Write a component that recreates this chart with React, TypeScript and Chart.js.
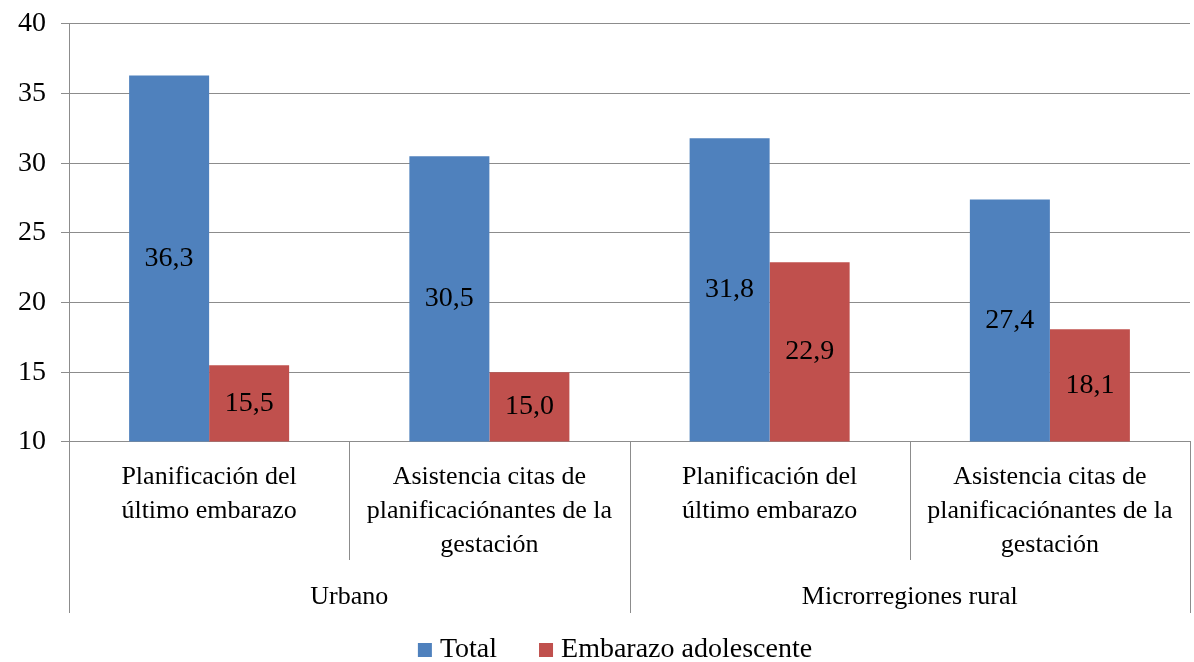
import React, { useEffect, useRef } from "react";
import { Chart, registerables } from "chart.js";

Chart.register(...registerables);

const categories: string[][] = [
  ["Planificación del", "último embarazo"],
  ["Asistencia citas de", "planificaciónantes de la", "gestación"],
  ["Planificación del", "último embarazo"],
  ["Asistencia citas de", "planificaciónantes de la", "gestación"],
];
const groups = ["Urbano", "Microrregiones rural"];
const totalValues = [36.3, 30.5, 31.8, 27.4];
const adolescentValues = [15.5, 15.0, 22.9, 18.1];
const seriesNames = ["Total", "Embarazo adolescente"];
const seriesColors = ["#4F81BD", "#C0504D"];

const FONT = "'Liberation Serif', 'Times New Roman', serif";
const GRID = "#8c8c8c";

export default function App() {
  const ref = useRef<HTMLCanvasElement | null>(null);

  useEffect(() => {
    document.body.style.margin = "0";
    const canvas = ref.current!;
    const labelsPlugin = {
      id: "valueLabels",
      afterDatasetsDraw(chart: any) {
        const ctx = chart.ctx;
        ctx.save();
        ctx.font = `28px ${FONT}`;
        ctx.fillStyle = "#000";
        ctx.textAlign = "center";
        ctx.textBaseline = "middle";
        chart.data.datasets.forEach((ds: any, di: number) => {
          const meta = chart.getDatasetMeta(di);
          meta.data.forEach((bar: any, i: number) => {
            const v = ds.data[i] as number;
            const y = (bar.y + bar.base) / 2;
            ctx.fillText(v.toFixed(1).replace(".", ","), bar.x, y);
          });
        });
        ctx.restore();
      },
    };
    const axisPlugin = {
      id: "multiAxis",
      afterDraw(chart: any) {
        const ctx = chart.ctx;
        const area = chart.chartArea;
        const n = categories.length;
        const w = (area.right - area.left) / n;
        const bottom = area.bottom;
        ctx.save();
        ctx.strokeStyle = GRID;
        ctx.lineWidth = 1;
        for (let i = 0; i <= n; i++) {
          const x = Math.round(area.left + i * w) + 0.5;
          const long = i % 2 === 0;
          ctx.beginPath();
          ctx.moveTo(x, bottom);
          ctx.lineTo(x, bottom + (long ? 171 : 118));
          ctx.stroke();
        }
        ctx.font = `26px ${FONT}`;
        ctx.fillStyle = "#000";
        ctx.textAlign = "center";
        ctx.textBaseline = "middle";
        categories.forEach((lines, i) => {
          const cx = area.left + (i + 0.5) * w;
          lines.forEach((t, j) => {
            ctx.fillText(t, cx, bottom + 35 + j * 34);
          });
        });
        groups.forEach((g, i) => {
          const cx = area.left + (i * 2 + 1) * w;
          ctx.fillText(g, cx, bottom + 155);
        });

        // legend
        ctx.font = `28px ${FONT}`;
        const box = 14;
        const textGap = 8;
        const itemGap = 42;
        const widths = seriesNames.map((s) => ctx.measureText(s).width);
        let total = 0;
        widths.forEach((tw, i) => {
          total += box + textGap + tw + (i < widths.length - 1 ? itemGap : 0);
        });
        let x = 615 - total / 2;
        const cy = chart.height - 12;
        ctx.textAlign = "left";
        seriesNames.forEach((s, i) => {
          ctx.fillStyle = seriesColors[i];
          ctx.fillRect(x, cy - box / 2, box, box);
          ctx.fillStyle = "#000";
          ctx.fillText(s, x + box + textGap, cy);
          x += box + textGap + widths[i] + itemGap;
        });
        ctx.restore();
      },
    };

    const chart = new Chart(canvas, {
      type: "bar",
      data: {
        labels: categories.map((c) => c.join(" ")),
        datasets: [0, 1].map((k) => ({
          label: seriesNames[k],
          data: k === 0 ? totalValues : adolescentValues,
          backgroundColor: seriesColors[k],
          categoryPercentage: 0.571,
          barPercentage: 1,
          base: 10,
        })),
      },
      options: {
        responsive: false,
        animation: false,
        layout: { padding: { top: 0, right: 4, left: 3, bottom: 0 } },
        plugins: {
          tooltip: { enabled: false },
          legend: { display: false },
        },
        scales: {
          x: {
            grid: { display: false, drawTicks: false },
            border: { display: true, color: GRID },
            ticks: { display: false },
            afterFit: (scale: any) => {
              scale.height = 220;
            },
          },
          y: {
            min: 10,
            max: 40,
            ticks: {
              stepSize: 5,
              font: { family: FONT, size: 28, lineHeight: 0.64 },
              color: "#000",
              padding: 15,
            },
            grid: { color: GRID, tickLength: 8 },
            border: { color: GRID },
          },
        },
      },
      plugins: [labelsPlugin, axisPlugin],
    });
    return () => chart.destroy();
  }, []);

  return (
    <div style={{ width: 1194, height: 662 }}>
      <canvas ref={ref} width={1194} height={662} style={{ display: "block" }} />
    </div>
  );
}
